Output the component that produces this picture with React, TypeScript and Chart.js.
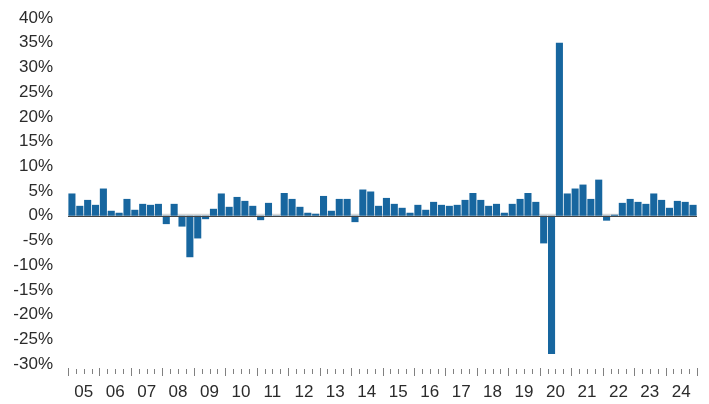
import React, { useEffect, useRef } from "react";
import { Chart, registerables } from "chart.js";

Chart.register(...registerables);

const years = ["05","06","07","08","09","10","11","12","13","14","15","16","17","18","19","20","21","22","23","24"];
const quarters = ["Q1", "Q2", "Q3", "Q4"];
const categories = years.flatMap((y) => quarters.map((q) => `${y}${q}`));

const growth = [
  4.5, 2.0, 3.2, 2.2,
  5.5, 1.0, 0.6, 3.4,
  1.2, 2.4, 2.2, 2.4,
  -1.7, 2.4, -2.2, -8.4,
  -4.6, -0.7, 1.4, 4.5,
  1.8, 3.8, 3.0, 2.0,
  -0.9, 2.6, -0.1, 4.6,
  3.4, 1.8, 0.6, 0.4,
  4.0, 1.0, 3.4, 3.4,
  -1.3, 5.3, 4.9, 2.0,
  3.6, 2.4, 1.6, 0.6,
  2.2, 1.2, 2.8, 2.2,
  2.0, 2.2, 3.2, 4.6,
  3.2, 2.0, 2.4, 0.6,
  2.4, 3.4, 4.6, 2.8,
  -5.6, -28.0, 35.0, 4.5,
  5.5, 6.3, 3.4, 7.3,
  -1.0, 0.2, 2.6, 3.4,
  2.8, 2.4, 4.5, 3.2,
  1.6, 3.0, 2.8, 2.2,
];

const yMin = -30;
const yMax = 40;
const yStep = 5;

const FONT = "'Liberation Sans', Arial, Helvetica, sans-serif";
const TEXT = "#2b2b2b";

const xAxisPlugin = {
  id: "xAxisYears",
  beforeDatasetsDraw(chart: any) {
    const { ctx, chartArea, scales } = chart;
    const y0 = scales.y.getPixelForValue(0);
    ctx.save();
    ctx.strokeStyle = "#d6d6d6";
    ctx.lineWidth = 2;
    ctx.beginPath();
    ctx.moveTo(chartArea.left, y0 - 1);
    ctx.lineTo(chartArea.right, y0 - 1);
    ctx.stroke();
    ctx.restore();
  },
  afterDatasetsDraw(chart: any) {
    const { ctx, chartArea, scales } = chart;
    const x = scales.x;
    const y0 = scales.y.getPixelForValue(0);
    ctx.save();
    ctx.strokeStyle = "#444444";
    ctx.lineWidth = 1;
    ctx.beginPath();
    ctx.moveTo(chartArea.left, Math.round(y0) + 0.5);
    ctx.lineTo(chartArea.right, Math.round(y0) + 0.5);
    ctx.stroke();

    const n = categories.length;
    const slot = (x.right - x.left) / n;
    const top = chartArea.bottom + 4;
    ctx.strokeStyle = "#808080";
    for (let i = 0; i <= n; i++) {
      const px = Math.round(x.left + i * slot) + 0.5;
      const major = i % 4 === 0;
      ctx.beginPath();
      ctx.moveTo(px, major ? top : top + 1);
      ctx.lineTo(px, major ? top + 8 : top + 6);
      ctx.stroke();
    }
    ctx.fillStyle = TEXT;
    ctx.font = `17px ${FONT}`;
    ctx.textAlign = "center";
    ctx.textBaseline = "middle";
    years.forEach((yr, k) => {
      const cx = x.left + (k * 4 + 2) * slot;
      ctx.fillText(yr, cx, chartArea.bottom + 28);
    });
    ctx.restore();
  },
};

export default function App() {
  const ref = useRef<HTMLCanvasElement | null>(null);

  useEffect(() => {
    document.body.style.margin = "0";
    if (!ref.current) return;
    const chart = new Chart(ref.current, {
      type: "bar",
      data: {
        labels: categories,
        datasets: [
          {
            data: growth,
            backgroundColor: "#17669f",
            borderWidth: 0,
            barPercentage: 0.9,
            categoryPercentage: 1.0,
          },
        ],
      },
      options: {
        animation: false,
        responsive: false,
        maintainAspectRatio: false,
        layout: { padding: { top: 18, right: 12, left: 0, bottom: 0 } },
        plugins: {
          legend: { display: false },
          tooltip: { enabled: false },
        },
        scales: {
          x: {
            type: "category",
            offset: true,
            grid: { display: false, drawTicks: false },
            border: { display: false },
            ticks: { display: false },
            afterFit: (s: any) => {
              s.height = 40;
              s.paddingLeft = 0;
              s.paddingRight = 0;
            },
          },
          y: {
            min: yMin,
            max: yMax,
            grid: { display: false, drawTicks: false },
            border: { display: false },
            ticks: {
              stepSize: yStep,
              padding: 15,
              color: TEXT,
              font: { family: FONT, size: 17 },
              callback: (v: any) => `${v}%`,
            },
            afterFit: (s: any) => {
              s.width = 68;
              s.paddingTop = 0;
              s.paddingBottom = 0;
            },
          },
        },
      },
      plugins: [xAxisPlugin],
    });
    return () => chart.destroy();
  }, []);

  return (
    <div style={{ width: 709, height: 404 }}>
      <canvas ref={ref} width={709} height={404} style={{ display: "block" }} />
    </div>
  );
}
